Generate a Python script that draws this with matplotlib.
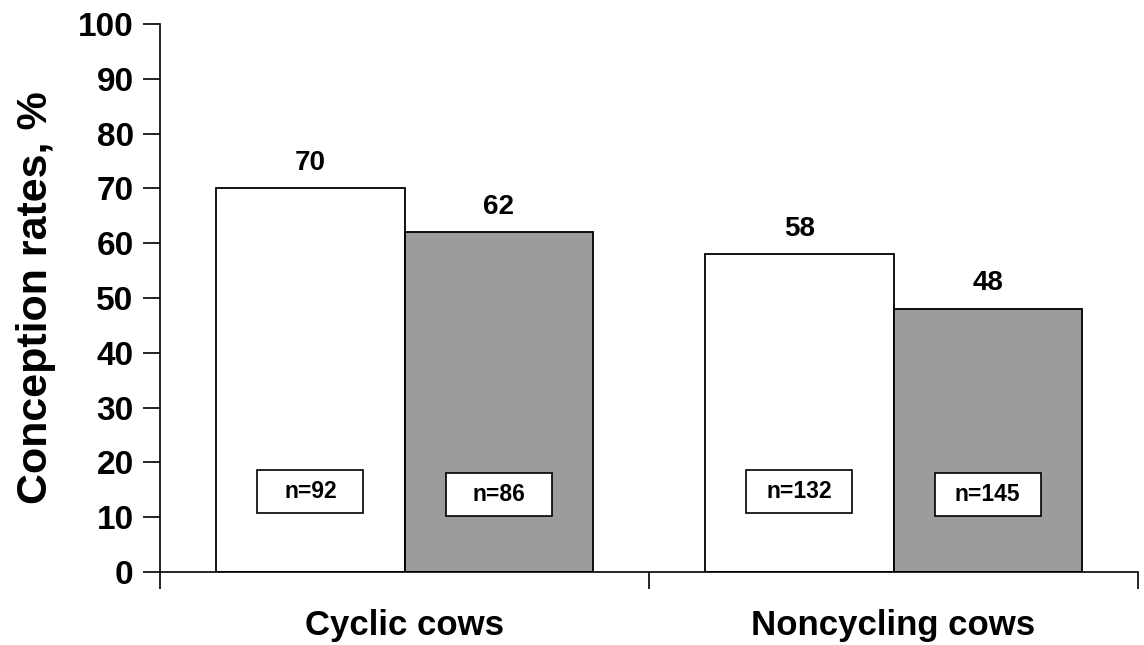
import matplotlib
matplotlib.use('Agg')
import matplotlib.pyplot as plt
from matplotlib.patches import Rectangle

plt.rcParams['font.family'] = ['Liberation Sans', 'DejaVu Sans']
plt.rcParams['font.weight'] = 'bold'

groups = ['Cyclic cows', 'Noncycling cows']
white_vals = [70, 58]
gray_vals = [62, 48]
white_n = ['n=92', 'n=132']
gray_n = ['n=86', 'n=145']

fig = plt.figure(figsize=(11.44, 6.45), dpi=100)
ax = fig.add_axes([0.1399, 0.1132, 0.8549, 0.8496])

centers = [0.5, 1.5]
w = 0.385
box_w = 0.217
box_h = 7.85
for i, c in enumerate(centers):
  ax.bar(c - w / 2, white_vals[i], width=w, color='white', edgecolor='black', linewidth=1.3)
  ax.bar(c + w / 2, gray_vals[i], width=w, color='#9c9c9c', edgecolor='black', linewidth=1.3)
  ax.text(c - w / 2, white_vals[i] + 2.3, str(white_vals[i]), ha='center', va='bottom', fontsize=20, fontweight='bold')
  ax.text(c + w / 2, gray_vals[i] + 2.3, str(gray_vals[i]), ha='center', va='bottom', fontsize=20, fontweight='bold')
  # n boxes
  for xc, yb, lab in [(c - w / 2, 10.8, white_n[i]), (c + w / 2, 10.3, gray_n[i])]:
    ax.add_patch(Rectangle((xc - box_w / 2, yb), box_w, box_h, facecolor='white', edgecolor='black', linewidth=1.2, zorder=3))
    ax.text(xc, yb + box_h / 2, lab, ha='center', va='center', fontsize=16.5, fontweight='bold', zorder=4)

ax.set_xlim(0, 2)
ax.set_ylim(0, 100)
ax.set_yticks(range(0, 101, 10))
ax.tick_params(axis='y', labelsize=24, length=12, width=1.2, pad=7)
ax.set_xticks([0, 1, 2])
ax.set_xticklabels([])
ax.tick_params(axis='x', which='major', length=12, width=1.2)
ax.set_xticks(centers, minor=True)
ax.set_xticklabels(groups, minor=True, fontsize=25, fontweight='bold')
ax.tick_params(axis='x', which='minor', length=0, pad=27)
for lab in ax.get_yticklabels():
  lab.set_fontweight('bold')

ax.spines['top'].set_visible(False)
ax.spines['right'].set_visible(False)
ax.spines['left'].set_linewidth(1.2)
ax.spines['bottom'].set_linewidth(1.2)
ax.set_ylabel('Conception rates, %', fontsize=31, fontweight='bold', labelpad=16)

fig.savefig('out.png', dpi=100)
